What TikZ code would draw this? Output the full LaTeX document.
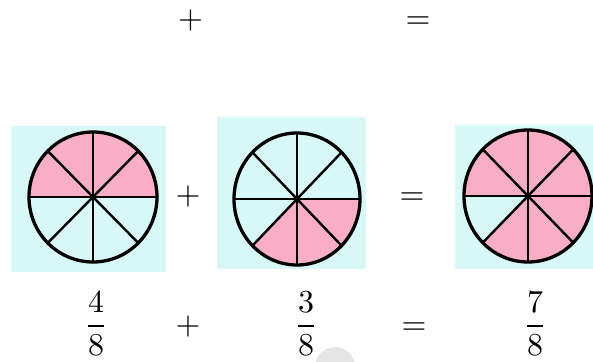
\documentclass[tikz,border=0pt]{standalone}
\usepackage{amsmath}
\usepackage{graphicx}
\definecolor{bgcyan}{HTML}{D8F7F7}
\definecolor{pinkfill}{HTML}{F8AEC6}
\tikzset{
  panel/.style={fill=bgcyan, draw=none},
  sym/.style={inner sep=0pt, anchor=base},
  rim/.style={draw=black, line width=3.3pt},
  spoke/.style={draw=black, line width=2.4pt},
}
\newcommand{\bigsym}[1]{\scalebox{3.2}{$#1$}}
\newcommand{\bigfrac}[2]{\scalebox{3.2}{$\genfrac{}{}{0.8pt}{0}{#1}{#2}$}}
% #1 center, #2 rx, #3 ry, #4 list of shaded start angles
\newcommand{\mypie}[4]{%
  \foreach \a in {#4}{%
    \fill[pinkfill] (#1) -- ++(\a:#2pt and #3pt) arc[start angle=\a, delta angle=45, x radius=#2pt, y radius=#3pt] -- cycle;
  }%
  \foreach \a in {0,45,...,315}{%
    \draw[spoke] (#1) -- ++(\a:#2pt and #3pt);
  }%
  \draw[rim] (#1) ellipse [x radius=#2pt, y radius=#3pt];
}
\begin{document}
\begin{tikzpicture}[x=1pt,y=1pt]
\useasboundingbox (0,0) rectangle (593,361);
\begin{scope}
\clip (0,0) rectangle (593,361);
% faint watermark blob
\fill[black!10] (335,-6) circle (20);
% panels
\fill[panel] (11,89) rectangle (166,235);
\fill[panel] (217,92) rectangle (366,244);
\fill[panel] (455,92) rectangle (593,236);
\coordinate (c1) at (93,164);
\coordinate (c2) at (297,162);
\coordinate (c3) at (528,165);
\mypie{c1}{64}{65}{0,45,90,135}
\mypie{c2}{63}{66}{225,270,315}
\mypie{c3}{64}{66}{0,45,90,135,225,270,315}
\end{scope}
% top row
\node[sym] (tplus) at (190.5,332) {\bigsym{+}};
\node[sym] (teq) at (418,332) {\bigsym{=}};
% middle row
\node[sym] (mplus) at (188,156) {\bigsym{+}};
\node[sym] (meq) at (412,156) {\bigsym{=}};
% bottom row
\node[sym] (f1) at (96,27) {\bigfrac{4}{8}};
\node[sym] (bplus) at (188,27) {\bigsym{+}};
\node[sym] (f2) at (306,27) {\bigfrac{3}{8}};
\node[sym] (beq) at (414,27) {\bigsym{=}};
\node[sym] (f3) at (535,27) {\bigfrac{7}{8}};
\end{tikzpicture}
\end{document}
